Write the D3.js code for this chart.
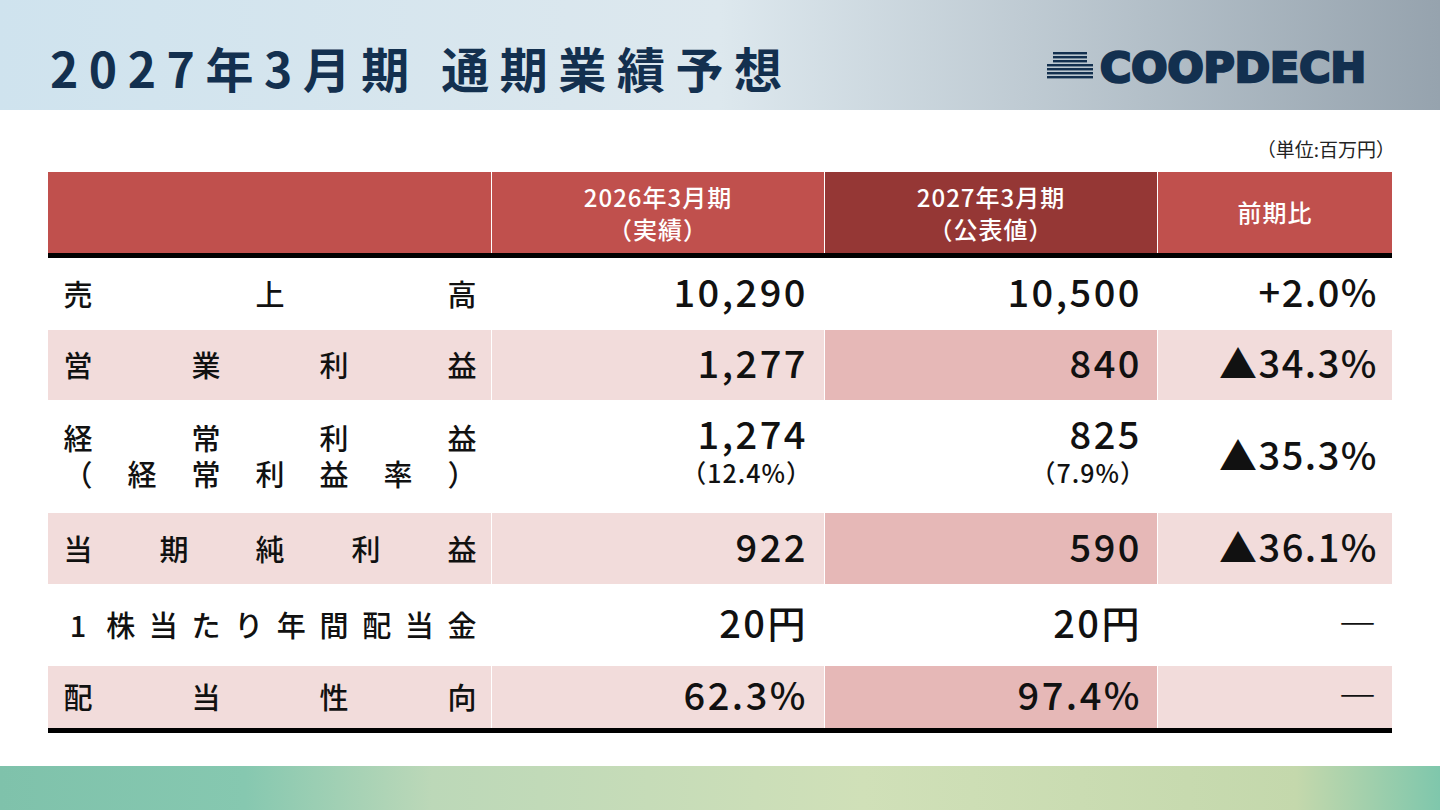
<!DOCTYPE html>
<html><head><meta charset="utf-8">
<script src="https://cdn.jsdelivr.net/npm/d3@7"></script>
<style>body{margin:0;background:#fff}svg{display:block;font-family:"Noto Sans CJK JP","Noto Sans",sans-serif}</style>
</head><body><svg id="c" width="1440" height="810"></svg>
<script>
// table data
const headers = [["2026年3月期", "（実績）"], ["2027年3月期", "（公表値）"], ["前期比"]];
const labels = [["売上高"], ["営業利益"], ["経常利益", "(経常利益率)"], ["当期純利益"], ["1株当たり年間配当金"], ["配当性向"]];
const actual = [["10,290"], ["1,277"], ["1,274", "（12.4%）"], ["922"], ["20円"], ["62.3%"]];
const forecast = [["10,500"], ["840"], ["825", "（7.9%）"], ["590"], ["20円"], ["97.4%"]];
const change = ["+2.0%", "▲34.3%", "▲35.3%", "▲36.1%", "―", "―"];
const rowEdges = [258, 330, 400, 513, 584, 666, 728];

const svg = d3.select("#c");
const defs = svg.append("defs");
const g1 = defs.append("linearGradient").attr("id", "top");
g1.append("stop").attr("offset", "0").attr("stop-color", "#cfe3ee");
g1.append("stop").attr("offset", "0.5").attr("stop-color", "#dde8ee");
g1.append("stop").attr("offset", "1").attr("stop-color", "#96a3ae");
const g2 = defs.append("linearGradient").attr("id", "bot");
[["0", "#7fc2ab"], ["0.17", "#86c8b0"], ["0.3", "#bcd8b8"], ["0.6", "#d0e0b8"], ["0.9", "#c4d8ac"], ["1", "#7fc7ac"]]
  .forEach(([o, c]) => g2.append("stop").attr("offset", o).attr("stop-color", c));
svg.append("rect").attr("width", 1440).attr("height", 110).attr("fill", "url(#top)");
svg.append("rect").attr("y", 766).attr("width", 1440).attr("height", 44).attr("fill", "url(#bot)");

svg.append("text").attr("x", 50).attr("y", 88).attr("font-size", 48).attr("font-weight", 700)
  .attr("fill", "#13304f").attr("textLength", 732).attr("lengthAdjust", "spacing").text("2027年3月期 通期業績予想");
// logo
const logo = svg.append("g").attr("transform", "translate(1047,52)");
d3.range(7).forEach(i => logo.append("rect").attr("x", i < 3 ? 6 : 0).attr("y", i * 4)
  .attr("width", i < 3 ? 34 : 46).attr("height", 2.4).attr("fill", "#13304f"));
svg.append("text").attr("x", 1100).attr("y", 82).attr("font-family", "DejaVu Sans").attr("font-size", 40)
  .attr("font-weight", 700).attr("fill", "#13304f").attr("stroke", "#13304f").attr("stroke-width", 2.5)
  .attr("textLength", 266).attr("lengthAdjust", "spacingAndGlyphs").text("COOPDECH");

svg.append("text").attr("x", 1395).attr("y", 157).attr("text-anchor", "end").attr("font-size", 19)
  .attr("fill", "#222").text("（単位:百万円）");

const cols = [[48, 491], [492, 824], [825, 1157], [1158, 1392]];
// header
cols.forEach((c, i) => svg.append("rect").attr("x", c[0]).attr("y", 172).attr("width", c[1] - c[0])
  .attr("height", 81).attr("fill", i === 2 ? "#953735" : "#c0504d"));
headers.forEach((h, i) => {
  const c = cols[i + 1], cx = (c[0] + c[1]) / 2;
  h.forEach((t, j) => svg.append("text").attr("x", cx).attr("y", h.length === 1 ? 222 : 207 + j * 32)
    .attr("text-anchor", "middle").attr("font-size", 24).attr("font-weight", 500).attr("fill", "#fff")
    .attr("letter-spacing", 1).text(t));
});
svg.append("rect").attr("x", 48).attr("y", 253).attr("width", 1344).attr("height", 5).attr("fill", "#000");

labels.forEach((lab, r) => {
  const y0 = rowEdges[r], y1 = rowEdges[r + 1], pink = r % 2 === 1, cy = (y0 + y1) / 2;
  cols.forEach((c, i) => svg.append("rect").attr("x", c[0]).attr("y", y0).attr("width", c[1] - c[0])
    .attr("height", y1 - y0).attr("fill", pink ? (i === 2 ? "#e6b8b7" : "#f2dcdb") : "#fff"));
  lab.forEach((t, j) => {
    const chars = Array.from(t.replace("(", "（").replace(")", "）"));
    const x = d3.scalePoint().domain(d3.range(chars.length)).range([78, 462]);
    const ly = lab.length === 1 ? cy + 12 : cy - 7 + j * 36;
    chars.forEach((ch, k) => svg.append("text").attr("x", x(k)).attr("y", ly).attr("text-anchor", "middle")
      .attr("font-size", 29).attr("font-weight", 500).attr("fill", "#111").text(ch));
  });
  [[actual[r], 808], [forecast[r], 1142]].forEach(([v, x]) => {
    v.forEach((t, j) => svg.append("text").attr("x", j ? x + 4 : x).attr("y", v.length === 1 ? cy + 13 : cy - 8 + j * 34)
      .attr("text-anchor", "end").attr("font-size", j ? 25 : 38).attr("font-weight", 500).attr("fill", "#111")
      .attr("letter-spacing", j ? 1 : 2.5).text(t));
  });
  svg.append("text").attr("x", 1378).attr("y", cy + 13).attr("text-anchor", "end")
    .attr("font-size", 38).attr("font-weight", 500).attr("fill", "#111").attr("letter-spacing", 1.5).text(change[r]);
});
svg.append("rect").attr("x", 48).attr("y", 728).attr("width", 1344).attr("height", 5).attr("fill", "#000");
</script></body></html>
